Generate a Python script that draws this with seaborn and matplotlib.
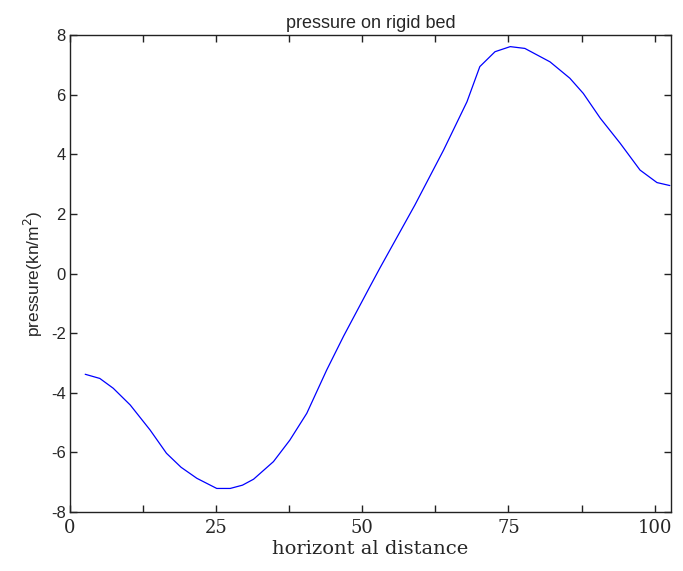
import numpy as np
import matplotlib
matplotlib.use("Agg")
import matplotlib.pyplot as plt
import seaborn as sns
import pandas as pd

# values
distance = [2.6, 5.1, 7.4, 10.3, 13.7, 16.5, 19.0, 21.7, 25.1, 27.4, 29.5, 31.4,
            34.8, 37.6, 40.5, 43.9, 46.8, 51.3, 53.0, 59.0, 63.9, 67.9, 70.1, 72.7,
            75.3, 77.8, 82.1, 85.5, 87.8, 90.7, 94.1, 97.5, 100.4, 102.6]
pressure = [-3.38, -3.52, -3.85, -4.41, -5.25, -6.03, -6.50, -6.87, -7.21, -7.21, -7.10, -6.90,
            -6.31, -5.59, -4.69, -3.24, -2.10, -0.44, 0.18, 2.30, 4.14, 5.76, 6.94, 7.44,
            7.61, 7.55, 7.10, 6.55, 6.04, 5.21, 4.37, 3.47, 3.05, 2.95]

x_ticks = [0, 12.5, 25, 37.5, 50, 62.5, 75, 87.5, 100]
x_tick_labels = ['0', '', '25', '', '50', '', '75', '', '100']
y_ticks = [-8, -6, -4, -2, 0, 2, 4, 6, 8]

df = pd.DataFrame({'distance': distance, 'pressure': pressure})

sns.set_style("white")
plt.rcParams['font.family'] = ['Liberation Sans', 'DejaVu Sans']

fig = plt.figure(figsize=(6.83, 5.71), dpi=100)
fig.subplots_adjust(left=70/683, right=671/683, top=1-35/571, bottom=1-512/571)
ax = fig.add_subplot(111)

sns.lineplot(data=df, x='distance', y='pressure', ax=ax, color='#0000ff',
             linewidth=0.9, sort=False, estimator=None)

ax.set_xlim(0, 102.8)
ax.set_ylim(-8, 8)
ax.set_xticks(x_ticks)
ax.set_xticklabels(x_tick_labels, family='DejaVu Serif', fontsize=13)
ax.set_yticks(y_ticks)
ax.set_yticklabels([str(v) for v in y_ticks], fontsize=12)

ax.tick_params(direction='in', length=5, width=1, top=True, right=True,
               bottom=True, left=True, color='#222222')
ax.tick_params(axis='y', pad=3)
ax.tick_params(axis='x', pad=5)

for s in ax.spines.values():
    s.set_visible(True)
    s.set_color('#222222')
    s.set_linewidth(1)

ax.set_title('pressure on rigid bed', fontsize=13, pad=5)
ax.set_xlabel('horizont al distance', family='DejaVu Serif', fontsize=14, labelpad=2)
ax.set_ylabel('pressure(kn/m$^2$)', fontsize=12.5, labelpad=4)

fig.savefig('out.png', dpi=100)
